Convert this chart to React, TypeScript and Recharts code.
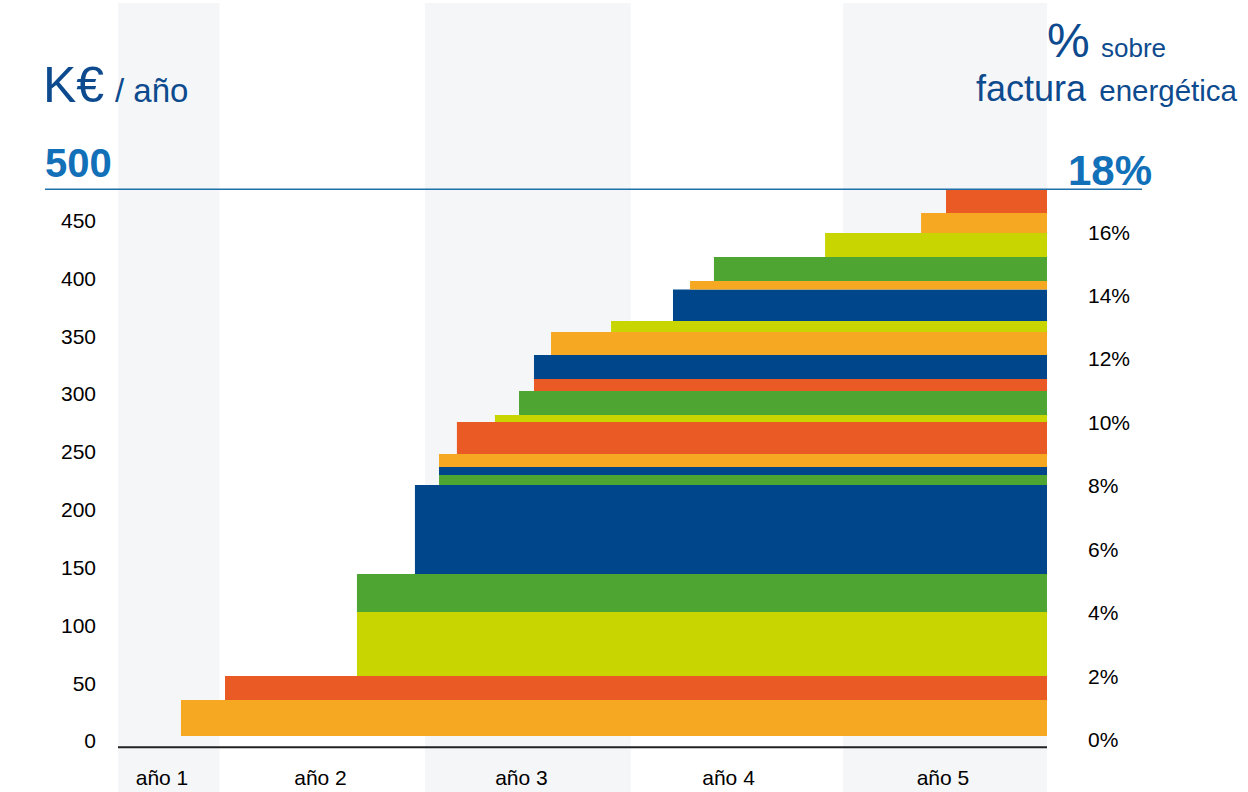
import React from 'react'
import { ComposedChart, XAxis, YAxis, ReferenceArea, ReferenceLine } from 'recharts'

// months from the start of año 1 (año 1 is a half year)
const yearLabels = ['año 1', 'año 2', 'año 3', 'año 4', 'año 5']
const yearLabelPos = [2.56, 11.77, 23.45, 35.49, 47.95]
const stripes = [
  [0, 5.9],
  [17.85, 29.8],
  [42.15, 54],
]

// each saving measure starts at some month and lasts until the end
const bandStart = [3.66, 6.22, 13.89, 13.89, 17.26, 18.66, 18.66, 18.66, 19.7, 21.91, 23.31, 24.18, 24.18, 25.17, 28.66, 32.26, 33.25, 34.64, 41.1, 46.68, 48.13]
const bandLow = [4.3, 35.4, 56.2, 111.5, 144.4, 221.3, 230.0, 236.9, 248.1, 275.8, 281.8, 302.6, 313.0, 333.7, 353.6, 363.1, 390.3, 397.7, 418.4, 439.2, 456.5]
const bandHigh = [35.4, 56.2, 111.5, 144.4, 221.3, 230.0, 236.9, 248.1, 275.8, 281.8, 302.6, 313.0, 333.7, 353.6, 363.1, 390.3, 397.7, 418.4, 439.2, 456.5, 477.2]
const bandColor = ['o', 'r', 'y', 'g', 'b', 'g', 'b', 'o', 'r', 'y', 'g', 'r', 'b', 'o', 'y', 'b', 'o', 'g', 'y', 'o', 'r']

const kTicks = [0, 50, 100, 150, 200, 250, 300, 350, 400, 450, 500]
const pctTicks = [0, 2, 4, 6, 8, 10, 12, 14, 16, 18]

const palette: Record<string, string> = {
  o: '#f6a823',
  r: '#ea5a25',
  y: '#c9d500',
  g: '#4ea532',
  b: '#00468b',
}

const FONT = '"Liberation Sans", Arial, sans-serif'
const DARK_BLUE = '#0d4a8e'
const MID_BLUE = '#1170b8'

const frame = [{ m: 0 }, { m: 54 }]

function LeftTick(props: any) {
  const { x, y, payload } = props
  if (payload.value === 500) {
    return (
      <text x={45} y={y} dy={14} fontSize={40} fontWeight="bold" fill={MID_BLUE} fontFamily={FONT}>
        500
      </text>
    )
  }
  return (
    <text x={x} y={y} dy="0.355em" textAnchor="end" fontSize={21} fill="#000" fontFamily={FONT}>
      {payload.value}
    </text>
  )
}

function RightTick(props: any) {
  const { x, y, payload } = props
  if (payload.value === 18) {
    return (
      <text x={1068} y={y} dy={16} fontSize={42} fontWeight="bold" fill={MID_BLUE} fontFamily={FONT}>
        18%
      </text>
    )
  }
  return (
    <text x={x} y={y} dy="0.355em" fontSize={21} fill="#000" fontFamily={FONT}>
      {payload.value}%
    </text>
  )
}

function YearTick(props: any) {
  const { x, y, index } = props
  return (
    <text x={x} y={y} textAnchor="middle" fontSize={21} fill="#000" fontFamily={FONT}>
      {yearLabels[index]}
    </text>
  )
}

export default function App() {
  return (
    <div style={{ position: 'absolute', left: 0, top: 0, width: 1248, height: 792, background: '#fff' }}>
      <ComposedChart width={1248} height={792} data={frame} margin={{ top: 3, right: 51, bottom: 0, left: 0 }}>
        <XAxis
          dataKey="m"
          type="number"
          domain={[0, 54]}
          ticks={yearLabelPos}
          mirror
          axisLine={false}
          tickLine={false}
          tickSize={0}
          tickMargin={7}
          tick={<YearTick />}
          allowDataOverflow
        />
        <YAxis
          yAxisId="k"
          type="number"
          domain={[-44.1, 638]}
          ticks={kTicks}
          width={118}
          axisLine={false}
          tickLine={false}
          tickSize={0}
          tickMargin={22}
          tick={<LeftTick />}
          allowDataOverflow
          interval={0}
        />
        <YAxis
          yAxisId="pct"
          orientation="right"
          type="number"
          domain={[-1.656, 23.23]}
          ticks={pctTicks}
          width={150}
          axisLine={false}
          tickLine={false}
          tickSize={0}
          tickMargin={41}
          tick={<RightTick />}
          allowDataOverflow
          interval={0}
        />
        {stripes.map(([a, b], i) => (
          <ReferenceArea key={'s' + i} yAxisId="k" x1={a} x2={b} fill="#f5f6f8" fillOpacity={1} stroke="none" />
        ))}
        {bandStart.map((s, i) => (
          <ReferenceArea
            key={'b' + i}
            yAxisId="k"
            x1={s}
            x2={54}
            y1={bandLow[i]}
            y2={bandHigh[i]}
            fill={palette[bandColor[i]]}
            fillOpacity={1}
            stroke="none"
          />
        ))}
        <ReferenceLine yAxisId="k" y={-5.4} stroke="#222" strokeWidth={2} />
      </ComposedChart>
      <svg width={1248} height={792} style={{ position: 'absolute', left: 0, top: 0, pointerEvents: 'none' }}>
        <line x1={45} x2={1142} y1={189.3} y2={189.3} stroke="#1f6fab" strokeWidth={1.5} />
        <text x={43} y={102} fontSize={50} fill={DARK_BLUE} fontFamily={FONT}>
          K€
        </text>
        <text x={115} y={102} fontSize={33} fill={DARK_BLUE} fontFamily={FONT}>
          / año
        </text>
        <text x={1047} y={57} fontSize={48} fill={DARK_BLUE} fontFamily={FONT}>
          %
        </text>
        <text x={1101} y={57} fontSize={26} fill={DARK_BLUE} fontFamily={FONT}>
          sobre
        </text>
        <text x={976} y={101} fontSize={36} fill={DARK_BLUE} fontFamily={FONT}>
          factura
        </text>
        <text x={1237} y={101} fontSize={29.5} textAnchor="end" fill={DARK_BLUE} fontFamily={FONT}>
          energética
        </text>
      </svg>
    </div>
  )
}
